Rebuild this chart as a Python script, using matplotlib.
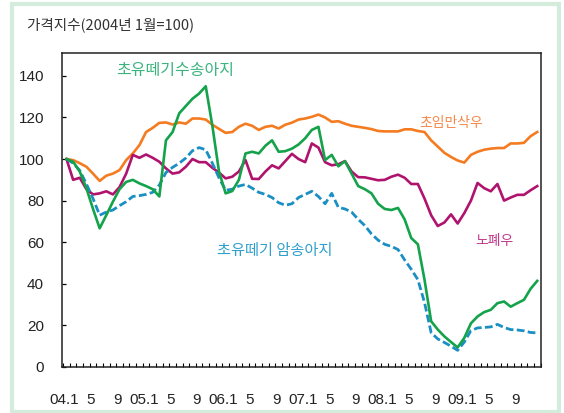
import matplotlib
matplotlib.use("Agg")
import matplotlib.pyplot as plt
from matplotlib.patches import Rectangle
import numpy as np

plt.rcParams["font.family"] = ["Noto Sans CJK KR", "DejaVu Sans"]

# monthly index 0 = 2004.1 ... 71 = 2009.12
orange = [100, 99.5, 98, 96.3, 93, 89.5, 92, 93, 94.7, 99.5, 102.7, 106.7, 113, 115, 117.4, 117.6, 116.6, 117.6, 117,
          119.5, 119.5, 119, 116.5, 114.5, 112.6, 113, 115.5, 117, 116, 114, 115.5, 116, 114.7, 116.5, 117.5, 119,
          119.5, 120.3, 121.4, 120, 117.9, 118.2, 117, 116, 115.5, 115, 114.4, 113.5, 113.3, 113.3, 113.3, 114.3, 114.3, 113.5,
          113, 109, 106, 103, 101, 99.3, 98.3, 102, 103.5, 104.5, 105, 105.3, 105.3, 107.5, 107.5, 107.8, 111, 113]
magenta = [100, 90, 91, 85.5, 83, 83.5, 84.5, 83, 86.5, 93, 102, 100.6, 102.2, 100.6, 98.7, 95.5, 93, 93.6, 96.3,
           100, 98.5, 98.5, 95.8, 93.5, 90.7, 91.5, 94, 99.5, 90.5, 90.4, 94, 97, 95.5, 99, 102.5, 100,
           98.5, 107.5, 105.5, 98.5, 97, 97.5, 99, 94, 91.3, 91.2, 90.5, 89.8, 90, 91.5, 92.5, 91, 88, 88,
           81, 73, 67.8, 69.5, 73.4, 69, 74, 80, 88.5, 86, 84.5, 88, 80, 81.5, 82.8, 82.8, 85, 87]
green = [100, 98.7, 94, 86, 76, 66.7, 73, 79.5, 85.5, 89, 90, 88.3, 87, 85.5, 82, 109, 113, 122, 125.5,
         129, 131.5, 135, 116, 94, 83.5, 84.6, 90, 102.7, 103.5, 102.7, 106.4, 109, 103.5, 103.8, 105, 107,
         110, 114, 115.5, 99.5, 102, 96.5, 99, 93, 87, 85.5, 83.5, 78.5, 76, 75.5, 76.5, 71, 62, 59,
         42, 22, 18, 14.7, 12, 9.4, 14, 21, 24.3, 26.4, 27.5, 30.7, 31.5, 29, 30.7, 32.3, 37.6, 41.4]
blue = [100, 98, 94.5, 88, 81, 73, 74.5, 75.5, 77.6, 79.5, 82, 82.4, 83, 84, 87.5, 93.5, 96, 98, 100.5,
        104, 105.5, 104.5, 98, 91, 85, 85.5, 87, 87.8, 86, 84, 83, 81.5, 79, 77.8, 78.5, 81.5,
        83, 84.5, 82, 78.5, 83.5, 76.8, 76, 74.5, 71, 68, 64, 61, 59, 58, 56.5, 51.5, 47, 42,
        31, 16.5, 13.5, 11.8, 10, 8, 12, 17.5, 18.8, 19, 19.3, 20.5, 19, 18, 17.8, 17.4, 16.6, 16.4]

tick_pos = list(range(0, 72, 4))
tick_labels = ["04.1", "5", "9", "05.1", "5", "9", "06.1", "5", "9",
               "07.1", "5", "9", "08.1", "5", "9", "09.1", "5", "9"]

months = np.arange(len(green))

fig = plt.figure(figsize=(5.64, 4.13), dpi=100)
fig.patch.set_facecolor("white")

# light green frame round the whole chart
fig.patches.append(Rectangle((12 / 564, 1.5 / 413), 546.5 / 564, 407.5 / 413,
                             transform=fig.transFigure, fill=False,
                             edgecolor="#d4ecdc", linewidth=3.0, zorder=0))

ax = fig.add_axes([62 / 564, 46 / 413, 479 / 564, 314 / 413])

ax.plot(months, orange, color="#f47b20", lw=1.9, solid_joinstyle="round")
ax.plot(months, magenta, color="#b0136e", lw=1.9, solid_joinstyle="round")
ax.plot(months, blue, color="#1a8fc3", lw=2.0, ls=(0, (2.8, 1.2)), dash_capstyle="butt")
ax.plot(months, green, color="#14a24a", lw=1.9, solid_joinstyle="round")

ax.set_xlim(-0.68, 71.57)
ax.set_ylim(0, 151)

narrow = ["Liberation Sans Narrow", "Liberation Sans", "DejaVu Sans"]
ax.set_yticks(range(0, 141, 20))
ax.set_yticklabels([str(v) for v in range(0, 141, 20)], family=narrow, fontsize=11, color="#222222")
ax.tick_params(axis="y", direction="in", length=3, width=0.9, pad=13)

ax.set_xticks([p - 0.35 for p in tick_pos])
ax.set_xticklabels(tick_labels, family=narrow, fontsize=11, color="#222222")
ax.set_xticks(np.arange(-0.5, 72, 1), minor=True)
ax.tick_params(axis="x", which="major", length=0, pad=19)
ax.tick_params(axis="x", which="minor", direction="in", length=3, width=0.8)

for s in ax.spines.values():
    s.set_linewidth(1.1)
    s.set_color("#222222")

fig.text(27 / 564, 1 - 25 / 413, "가격지수(2004년 1월=100)", fontsize=10.5,
         color="#333333", va="center", ha="left")

fig.text(175 / 564, 1 - 70 / 413, "초유떼기수송아지", fontsize=11.5, color="#3bb37e",
         ha="center", va="center")
fig.text(451.5 / 564, 1 - 122.5 / 413, "초임만삭우", fontsize=10, color="#f5894a",
         ha="center", va="center")
fig.text(494 / 564, 1 - 241.5 / 413, "노폐우", fontsize=10, color="#c2398a",
         ha="center", va="center")
fig.text(274.5 / 564, 1 - 250.5 / 413, "초유떼기 암송아지", fontsize=11, color="#2f9fcc",
         ha="center", va="center")

fig.savefig("out.png", dpi=100, facecolor="white")
